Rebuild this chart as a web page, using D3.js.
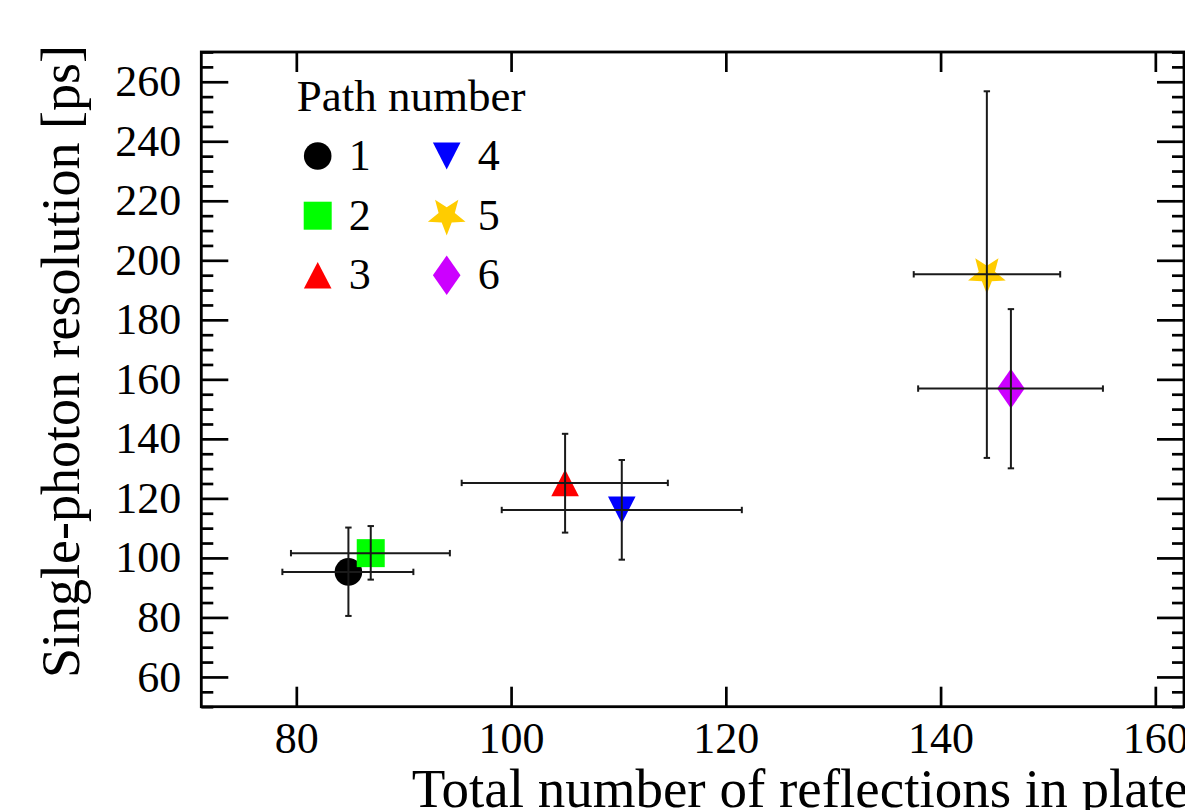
<!DOCTYPE html>
<html>
<head>
<meta charset="utf-8">
<script src="https://cdn.jsdelivr.net/npm/d3@7"></script>
<style>
  html, body { margin: 0; padding: 0; background: #fff; }
  svg { display: block; }
</style>
</head>
<body>
<svg id="chart" width="1185" height="810" font-family="Liberation Serif"></svg>
<script>
// ---------- data ----------
const paths   = ["1", "2", "3", "4", "5", "6"];
const xValues = [84.85, 86.93, 105.03, 110.31, 144.31, 146.55];
const yValues = [95.3, 101.6, 125.2, 116.1, 195.3, 156.9];
const xErrLow  = [78.7, 79.5, 95.4, 99.13, 137.5, 137.91];
const xErrHigh = [90.9, 94.3, 114.6, 121.49, 151.14, 155.12];
const yErrLow  = [80.5, 92.7, 108.5, 99.4, 133.6, 130.1];
const yErrHigh = [110.2, 110.7, 141.7, 132.9, 256.8, 183.6];
const colors  = ["#000000", "#00ff00", "#ff0000", "#0000ff", "#ffcc00", "#cc00ff"];
const shapes  = ["circle", "square", "triangleUp", "triangleDown", "star", "diamond"];

const xMajorTicks = [80, 100, 120, 140, 160];
const yMajorTicks = [60, 80, 100, 120, 140, 160, 180, 200, 220, 240, 260];
const yMinorTicks = d3.range(50, 271, 5).filter(v => v % 20 !== 0);

const xTitle = "Total number of reflections in plate";
const yTitle = "Single-photon resolution [ps]";
const legendTitle = "Path number";

// ---------- layout ----------
const FONT = "Liberation Serif";
const plotLeft = 201.3, plotRight = 1184, plotTop = 52, plotBottom = 706.7;
const x = d3.scaleLinear().domain([71.15, 162.67]).range([plotLeft, plotRight]);
const y = d3.scaleLinear().domain([50, 270]).range([plotBottom, plotTop]);

const svg = d3.select("#chart");

function markerPath(shape) {
  switch (shape) {
    case "circle": return d3.symbol(d3.symbolCircle, Math.PI * 13.8 * 13.8)();
    case "square": { const s = 14; return `M${-s},${-s}H${s}V${s}H${-s}Z`; }
    case "triangleUp": { const w = 13.8, h = 13.3; return `M0,${-h}L${w},${h}L${-w},${h}Z`; }
    case "triangleDown": { const w = 13.8, h = 13.5; return `M0,${h}L${w},${-h}L${-w},${-h}Z`; }
    case "diamond": { const w = 13.8, h = 19.8; return `M0,${-h}L${w},0L0,${h}L${-w},0Z`; }
    case "star": {
      const R = 19.8, r = R * 0.43, pts = [];
      for (let i = 0; i < 10; i++) {
        const a = Math.PI / 2 + i * Math.PI / 5; // point down (screen coords)
        const rad = i % 2 === 0 ? R : r;
        pts.push([rad * Math.cos(a), rad * Math.sin(a)]);
      }
      return "M" + pts.map(p => p.join(",")).join("L") + "Z";
    }
  }
}

// ---------- frame + axes ----------
const tickStroke = 2.7;
function styleAxis(g) {
  g.attr("font-family", FONT);
  g.select(".domain").remove();
  g.selectAll(".tick line").attr("stroke", "#000").attr("stroke-width", tickStroke);
  g.selectAll("text").attr("font-family", FONT).attr("font-size", 44).attr("fill", "#000");
}

svg.append("g").attr("transform", `translate(${plotLeft},0)`)
  .call(d3.axisLeft(y).tickValues(yMajorTicks).tickSize(-27).tickPadding(20).tickFormat(d3.format("d")))
  .call(styleAxis);
svg.append("g").attr("transform", `translate(${plotLeft},0)`)
  .call(d3.axisLeft(y).tickValues(yMinorTicks).tickSize(-12).tickFormat(""))
  .call(styleAxis);
svg.append("g").attr("transform", `translate(${plotRight},0)`)
  .call(d3.axisRight(y).tickValues(yMajorTicks).tickSize(-27).tickFormat(""))
  .call(styleAxis);
svg.append("g").attr("transform", `translate(${plotRight},0)`)
  .call(d3.axisRight(y).tickValues(yMinorTicks).tickSize(-12).tickFormat(""))
  .call(styleAxis);
svg.append("g").attr("transform", `translate(0,${plotBottom})`)
  .call(d3.axisBottom(x).tickValues(xMajorTicks).tickSize(-20).tickPadding(15).tickFormat(d3.format("d")))
  .call(styleAxis);
svg.append("g").attr("transform", `translate(0,${plotTop})`)
  .call(d3.axisTop(x).tickValues(xMajorTicks).tickSize(-20).tickFormat(""))
  .call(styleAxis);

svg.append("rect")
  .attr("x", plotLeft).attr("y", plotTop)
  .attr("width", plotRight - plotLeft).attr("height", plotBottom - plotTop)
  .attr("fill", "none").attr("stroke", "#000").attr("stroke-width", 2.8);

// ---------- data marks ----------
const data = paths.map((p, i) => ({
  p, x: xValues[i], y: yValues[i],
  xl: xErrLow[i], xh: xErrHigh[i], yl: yErrLow[i], yh: yErrHigh[i],
  color: colors[i], shape: shapes[i]
}));

const marks = svg.append("g");
marks.selectAll("path.marker").data(data).join("path")
  .attr("class", "marker")
  .attr("transform", d => `translate(${x(d.x)},${y(d.y)})`)
  .attr("d", d => markerPath(d.shape))
  .attr("fill", d => d.color);

const cap = 3.2;
const eb = svg.append("g").attr("stroke", "#1a1a1a").attr("stroke-width", 2).attr("fill", "none");
data.forEach(d => {
  const g = eb.append("g");
  g.append("line").attr("x1", x(d.xl)).attr("x2", x(d.xh)).attr("y1", y(d.y)).attr("y2", y(d.y));
  g.append("line").attr("x1", x(d.x)).attr("x2", x(d.x)).attr("y1", y(d.yl)).attr("y2", y(d.yh));
  g.append("line").attr("x1", x(d.xl)).attr("x2", x(d.xl)).attr("y1", y(d.y) - cap).attr("y2", y(d.y) + cap);
  g.append("line").attr("x1", x(d.xh)).attr("x2", x(d.xh)).attr("y1", y(d.y) - cap).attr("y2", y(d.y) + cap);
  g.append("line").attr("y1", y(d.yl)).attr("y2", y(d.yl)).attr("x1", x(d.x) - cap).attr("x2", x(d.x) + cap);
  g.append("line").attr("y1", y(d.yh)).attr("y2", y(d.yh)).attr("x1", x(d.x) - cap).attr("x2", x(d.x) + cap);
});

// ---------- legend ----------
const legend = svg.append("g").attr("font-family", FONT);
legend.append("text").attr("x", 296.7).attr("y", 110.7)
  .attr("font-size", 45).attr("fill", "#000").text(legendTitle);
const colX = [317.7, 446.7], rowY = [156, 215.7, 275.3];
data.forEach((d, i) => {
  const cx = colX[Math.floor(i / 3)], cy = rowY[i % 3];
  legend.append("path").attr("transform", `translate(${cx},${cy})`)
    .attr("d", markerPath(d.shape)).attr("fill", d.color);
  legend.append("text").attr("x", cx + 31).attr("y", cy + 14)
    .attr("font-size", 44).attr("fill", "#000").text(d.p);
});

// ---------- titles ----------
svg.append("text").attr("x", 411.7).attr("y", 806.7).attr("font-family", FONT)
  .attr("font-size", 55).attr("fill", "#000").text(xTitle);

svg.append("text").attr("font-family", FONT)
  .attr("transform", "translate(79,361.5) rotate(-90)")
  .attr("text-anchor", "middle")
  .attr("font-size", 54).attr("fill", "#000").text(yTitle);
</script>
</body>
</html>
